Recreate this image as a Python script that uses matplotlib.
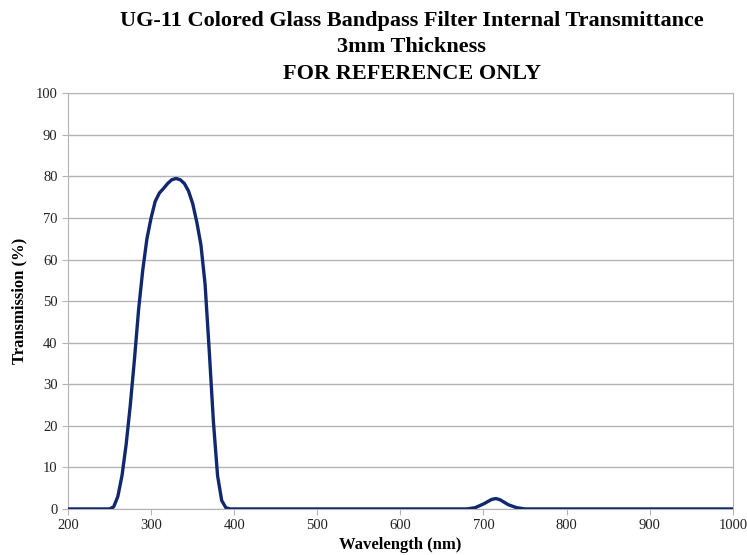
import matplotlib.pyplot as plt

plt.rcParams['font.family'] = ['Liberation Serif', 'DejaVu Serif']

# UG-11 internal transmittance
wavelength = [200, 250, 255, 260, 265, 270, 275, 280, 285, 290, 295, 300, 305, 310,
              315, 320, 325, 330, 335, 340, 345, 350, 355, 360, 365, 370, 375, 380,
              385, 390, 395, 680, 690, 700, 710, 715, 720, 730, 740, 750, 1000]
transmission = [0, 0, 0.5, 3, 8, 15.5, 25, 36, 48, 57.5, 65, 70, 74, 76,
                77.1, 78.3, 79.2, 79.5, 79.2, 78.3, 76.5, 73.5, 69, 63.5, 54, 38, 21, 8,
                2, 0.3, 0, 0, 0.3, 1.2, 2.3, 2.5, 2.2, 1.0, 0.3, 0, 0]

xticks = [200, 300, 400, 500, 600, 700, 800, 900, 1000]
yticks = [0, 10, 20, 30, 40, 50, 60, 70, 80, 90, 100]

fig = plt.figure(figsize=(7.47, 5.55), dpi=100)
ax = fig.add_axes([0.091, 0.083, 0.890, 0.749])

ax.plot(wavelength, transmission, color='#10286e', lw=2.4,
        solid_joinstyle='round', solid_capstyle='round', zorder=3)

ax.set_xlim(200, 1000)
ax.set_ylim(0, 100)
ax.set_xticks(xticks)
ax.set_yticks(yticks)
ax.grid(axis='y', color='#b4b4b4', lw=1)
ax.set_axisbelow(True)
for s in ax.spines.values():
    s.set_color('#b4b4b4')
ax.tick_params(colors='#b4b4b4', labelcolor='#222222', labelsize=10.5, length=4)
ax.tick_params(axis='x', pad=3)

ax.set_xlabel('Wavelength (nm)', fontsize=12, fontweight='bold', labelpad=4)
ax.set_ylabel('Transmission (%)', fontsize=12, fontweight='bold', labelpad=6)

fig.text(0.551, 0.962, 'UG-11 Colored Glass Bandpass Filter Internal Transmittance',
         ha='center', va='center', fontsize=16, fontweight='bold')
fig.text(0.551, 0.915, '3mm Thickness', ha='center', va='center', fontsize=16, fontweight='bold')
fig.text(0.551, 0.867, 'FOR REFERENCE ONLY', ha='center', va='center', fontsize=16, fontweight='bold')

fig.savefig('out.png', dpi=100)
